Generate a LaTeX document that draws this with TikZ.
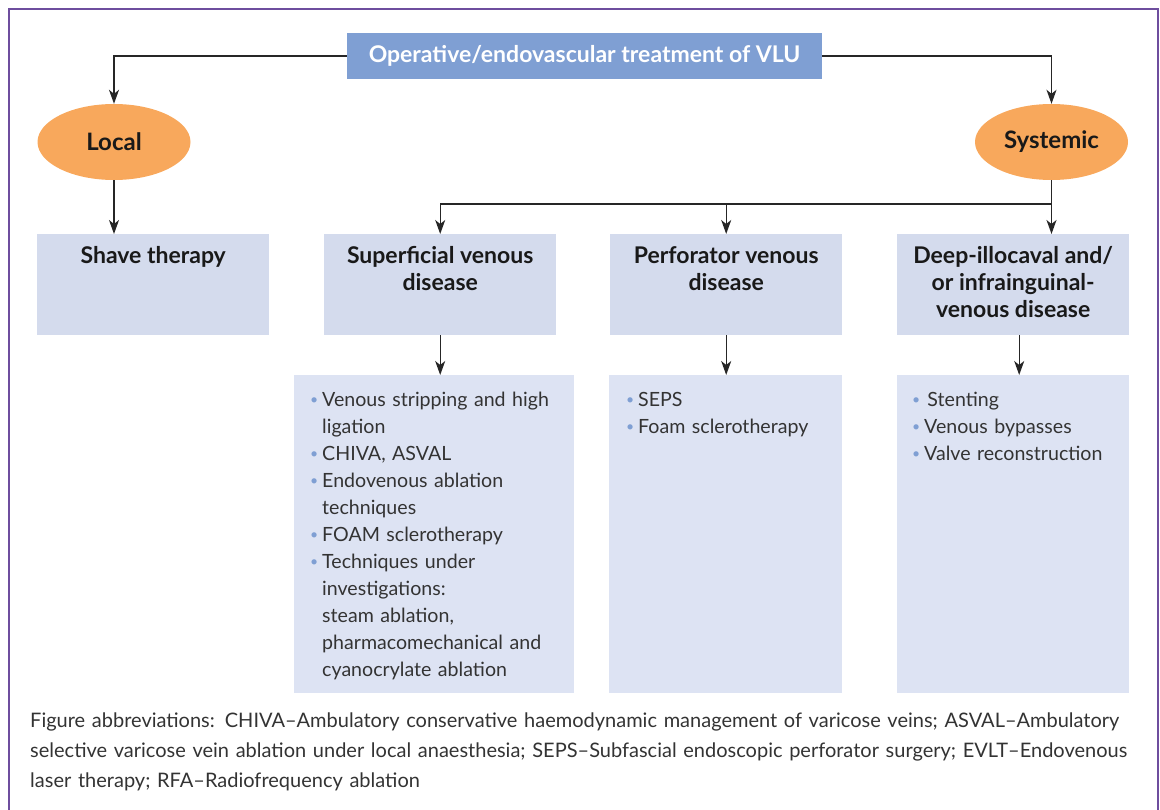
\documentclass[tikz,border=0pt]{standalone}
\usepackage{fontspec}
\setmainfont{Lato}
\usetikzlibrary{shapes.geometric,arrows.meta}
\definecolor{titleblue}{HTML}{7F9FD3}
\definecolor{headfill}{HTML}{D4DBED}
\definecolor{listfill}{HTML}{DDE3F3}
\definecolor{ovalfill}{HTML}{F8A85C}
\definecolor{framepurple}{HTML}{6E4E9E}
\definecolor{inkgrey}{HTML}{333333}
\newcommand{\bulitem}[1]{\par\noindent\hangindent=12pt\hangafter=1%
\makebox[12pt][l]{\textcolor{titleblue}{\raisebox{1.5pt}{\fontsize{14}{14}\selectfont\textbullet}}}#1\par}
\tikzset{
topbox/.style={fill=titleblue, text=white, font=\bfseries\fontsize{23}{27}\selectfont,
minimum width=475pt, minimum height=46pt, inner sep=0pt},
oval/.style={ellipse, fill=ovalfill, minimum width=153pt, minimum height=76pt,
inner sep=0pt, font=\bfseries\fontsize{24}{27}\selectfont, text=black!90},
headbox/.style={fill=headfill, anchor=north west, minimum width=232pt,
minimum height=101pt, inner sep=0pt},
headtext/.style={anchor=north, align=center, inner sep=0pt,
font=\bfseries\fontsize{23}{27}\selectfont, text=black!90},
listbox/.style={fill=listfill, anchor=north west, minimum height=318pt, inner sep=0pt},
listtext/.style={anchor=north west, align=left, inner sep=0pt, text width=262pt,
font=\fontsize{19.6}{27}\selectfont, text=inkgrey},
link/.style={draw=black!85, line width=1.4pt, -{Stealth[length=14pt,width=10pt,inset=4pt]}},
}
\begin{document}
\begin{tikzpicture}[x=1pt,y=-1pt]
\useasboundingbox (0,0) rectangle (1160,810);
\clip (0,0) rectangle (1160,810);
\draw[framepurple, line width=2pt] (9,830) -- (9,9) -- (1158,9) -- (1158,830);
% top of the tree
\node[topbox] (title) at (584.5,56) {Operative/endovascular treatment of VLU};
\node[oval] (local) at (114,142) {Local};
\node[oval] (systemic) at (1051.5,142) {Systemic};
% heading boxes
\node[headbox, minimum width=232pt] (shave) at (37,234) {};
\node[headbox, minimum width=232pt] (superf) at (324,234) {};
\node[headbox, minimum width=232pt] (perf) at (610,234) {};
\node[headbox, minimum width=232pt] (deep) at (897,234) {};
\node[headtext] (shavetxt) at ([yshift=-12pt]shave.north) {Shave therapy};
\node[headtext] (superftxt) at ([yshift=-12pt]superf.north) {Superficial venous\\disease};
\node[headtext] (perftxt) at ([yshift=-12pt]perf.north) {Perforator venous\\disease};
\node[headtext] (deeptxt) at ([yshift=-12pt]deep.north) {Deep-illocaval and/\\or infrainguinal-\\venous disease};
% list boxes
\node[listbox, minimum width=280pt] (superlist) at (294,375) {};
\node[listbox, minimum width=233pt] (perflist) at (609,375) {};
\node[listbox, minimum width=232pt] (deeplist) at (897,375) {};
\node[listtext] (superitems) at (310,379) {%
\bulitem{Venous stripping and high\newline ligation}
\bulitem{CHIVA, ASVAL}
\bulitem{Endovenous ablation\newline techniques}
\bulitem{FOAM sclerotherapy}
\bulitem{Techniques under\newline investigations:\newline steam ablation,\newline pharmacomechanical and\newline cyanocrylate ablation}};
\node[listtext, text width=215pt] (perfitems) at (626,379) {%
\bulitem{SEPS}
\bulitem{Foam sclerotherapy}};
\node[listtext, text width=215pt] (deepitems) at (912,379) {%
\bulitem{\,Stenting}
\bulitem{Venous bypasses}
\bulitem{Valve reconstruction}};
% connectors
\draw[link] (title.west) -| (local.north);
\draw[link] (title.east) -| (systemic.north);
\draw[link] (local.south) -- (local.south |- shave.north);
\coordinate (split) at (1051.5,204);
\draw[link] (systemic.south) -- (systemic.south |- deep.north);
\draw[link] (split) -| (superf.north);
\draw[link] (split) -| (perf.north);
\draw[link] (superf.south) -- (superf.south |- superlist.north);
\draw[link] (perf.south) -- (perf.south |- perflist.north);
\draw[link] ([xshift=6pt]deep.south) -- ([xshift=6pt]deep.south |- deeplist.north);
% caption
\node[anchor=north west, align=left, inner sep=0pt, text width=1125pt,
font=\fontsize{20}{30}\selectfont, text=inkgrey] (caption) at (30,713)
{Figure abbreviations: CHIVA--Ambulatory conservative haemodynamic management of varicose veins; ASVAL--Ambulatory\\
selective varicose vein ablation under local anaesthesia; SEPS--Subfascial endoscopic perforator surgery; EVLT--Endovenous\\
laser therapy; RFA--Radiofrequency ablation};
\end{tikzpicture}
\end{document}
